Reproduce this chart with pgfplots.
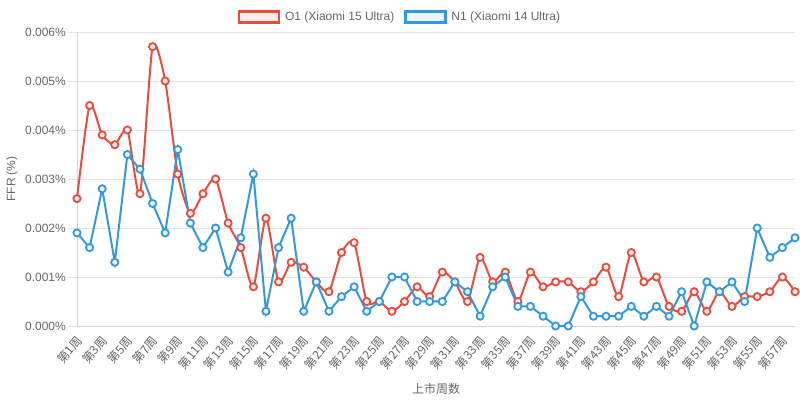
\documentclass[border=0pt]{standalone}
\usepackage{pgfplots}
\pgfplotsset{compat=1.18}
\usepackage{fontspec}
\setmainfont{Liberation Sans}
\newfontfamily\cjk{Noto Sans CJK SC}
\definecolor{redA}{HTML}{E74C3C}
\definecolor{blueA}{HTML}{3498DB}
\definecolor{txt}{HTML}{666666}
\definecolor{gridc}{HTML}{E2E2E2}
\definecolor{axc}{HTML}{D6D6D6}
\pgfplotstableread{
w o n
1 0.0026 0.0019
2 0.0045 0.0016
3 0.0039 0.0028
4 0.0037 0.0013
5 0.0040 0.0035
6 0.0027 0.0032
7 0.0057 0.0025
8 0.0050 0.0019
9 0.0031 0.0036
10 0.0023 0.0021
11 0.0027 0.0016
12 0.0030 0.0020
13 0.0021 0.0011
14 0.0016 0.0018
15 0.0008 0.0031
16 0.0022 0.0003
17 0.0009 0.0016
18 0.0013 0.0022
19 0.0012 0.0003
20 0.0009 0.0009
21 0.0007 0.0003
22 0.0015 0.0006
23 0.0017 0.0008
24 0.0005 0.0003
25 0.0005 0.0005
26 0.0003 0.0010
27 0.0005 0.0010
28 0.0008 0.0005
29 0.0006 0.0005
30 0.0011 0.0005
31 0.0009 0.0009
32 0.0005 0.0007
33 0.0014 0.0002
34 0.0009 0.0008
35 0.0011 0.0010
36 0.0005 0.0004
37 0.0011 0.0004
38 0.0008 0.0002
39 0.0009 0.0000
40 0.0009 0.0000
41 0.0007 0.0006
42 0.0009 0.0002
43 0.0012 0.0002
44 0.0006 0.0002
45 0.0015 0.0004
46 0.0009 0.0002
47 0.0010 0.0004
48 0.0004 0.0002
49 0.0003 0.0007
50 0.0007 0.0000
51 0.0003 0.0009
52 0.0007 0.0007
53 0.0004 0.0009
54 0.0006 0.0005
55 0.0006 0.0020
56 0.0007 0.0014
57 0.0010 0.0016
58 0.0007 0.0018
}\datatable
\begin{document}
\begin{tikzpicture}
\useasboundingbox (0,0) rectangle (800bp,401bp);
\begin{axis}[
  at={(77bp,75bp)}, anchor=south west,
  scale only axis, width=718bp, height=294bp,
  xmin=1, xmax=58, ymin=0, ymax=0.006,
  clip=false,
  axis lines*=left,
  axis line style={draw=axc, line width=0.8bp},
  ymajorgrids, grid style={draw=gridc, line width=0.8bp},
  ytick={0,0.001,0.002,0.003,0.004,0.005,0.006},
  yticklabels={0.000\%,0.001\%,0.002\%,0.003\%,0.004\%,0.005\%,0.006\%},
  scaled y ticks=false,
  major tick length=9bp, tick align=outside,
  ytick style={draw=gridc, line width=0.8bp},
  xtick={1,3,...,57},
  xticklabels={第1周,第3周,第5周,第7周,第9周,第11周,第13周,第15周,第17周,第19周,第21周,第23周,第25周,第27周,第29周,第31周,第33周,第35周,第37周,第39周,第41周,第43周,第45周,第47周,第49周,第51周,第53周,第55周,第57周},
  xtick style={draw=none},
  xticklabel style={font=\cjk\fontsize{12bp}{14bp}\selectfont, text=txt, rotate=50, anchor=east, inner sep=1bp, yshift=-4bp},
  yticklabel style={font=\fontsize{12bp}{14bp}\selectfont, text=txt, inner sep=2bp},
  ylabel={FFR (\%)},
  ylabel style={font=\fontsize{12bp}{14bp}\selectfont, text=txt, at={(axis description cs:-0.0905,0.5)}, anchor=center},
  xlabel={上市周数},
  xlabel style={font=\cjk\fontsize{12bp}{14bp}\selectfont, text=txt, at={(axis description cs:0.5,-0.214)}, anchor=center},
  legend columns=2,
  legend style={at={(axis description cs:0.4499,1.051)}, anchor=center, draw=none, fill=none,
    font=\fontsize{12bp}{14bp}\selectfont, text=txt,
    /tikz/every even column/.append style={column sep=8bp}},
]
\addplot[redA, line width=2bp, smooth, tension=0.4, mark=*, mark size=3.6bp,
  mark options={draw=redA, fill=redA!8, line width=1.8bp, solid},
  legend image code/.code={\draw[draw=redA, fill=redA!10, line width=2.2bp] (0bp,-5.5bp) rectangle (40bp,5.5bp); \path (43bp,0bp);}]
  table[x=w, y=o] {\datatable};
\addlegendentry{O1 (Xiaomi 15 Ultra)}
\addplot[blueA, line width=2bp, mark=*, mark size=3.6bp,
  mark options={draw=blueA, fill=blueA!8, line width=1.8bp, solid},
  legend image code/.code={\draw[draw=blueA, fill=blueA!10, line width=2.2bp] (0bp,-5.5bp) rectangle (40bp,5.5bp); \path (43bp,0bp);}]
  table[x=w, y=n] {\datatable};
\addlegendentry{N1 (Xiaomi 14 Ultra)}
\end{axis}
\end{tikzpicture}
\end{document}
